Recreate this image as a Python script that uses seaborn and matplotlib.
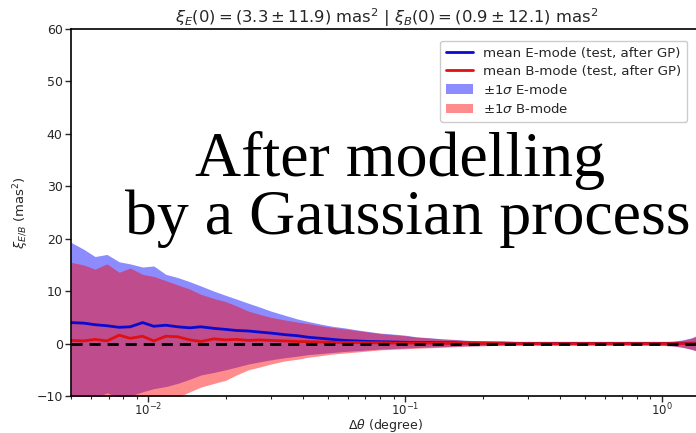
import matplotlib
matplotlib.use("Agg")
import matplotlib.pyplot as plt
import seaborn as sns
import numpy as np
import pandas as pd
from matplotlib.patches import Patch
from matplotlib.lines import Line2D

# ---- data ----
theta = [0.0050, 0.0056, 0.0062, 0.0069, 0.0077, 0.0085, 0.0095, 0.0105, 0.0117, 0.013,
         0.0145, 0.016, 0.018, 0.020, 0.022, 0.0245, 0.027, 0.030, 0.034, 0.038,
         0.042, 0.047, 0.052, 0.058, 0.065, 0.072, 0.080, 0.090, 0.10, 0.11,
         0.125, 0.14, 0.155, 0.17, 0.19, 0.21, 0.24, 0.27, 0.30, 0.34,
         0.38, 0.42, 0.47, 0.52, 0.58, 0.65, 0.72, 0.80, 0.90, 1.0,
         1.1, 1.2, 1.3, 1.4, 1.5]

e_mean = [4.0, 3.9, 3.6, 3.4, 3.1, 3.2, 4.0, 3.3, 3.5, 3.2,
          3.0, 3.2, 2.9, 2.7, 2.5, 2.4, 2.2, 2.0, 1.7, 1.5,
          1.2, 1.0, 0.8, 0.6, 0.5, 0.4, 0.35, 0.3, 0.25, 0.2,
          0.2, 0.15, 0.15, 0.1, 0.1, 0.1, 0.1, 0.05, 0.05, 0.05,
          0.05, 0.05, 0.05, 0.05, 0.05, 0.05, 0.05, 0.05, 0.05, 0.05,
          0.05, 0.05, 0.05, 0.05, 0.05]

e_up = [19.3, 18.0, 16.6, 17.0, 15.6, 15.2, 14.6, 14.8, 13.2, 12.6,
        11.8, 11.0, 10.0, 9.2, 8.5, 7.7, 7.0, 6.2, 5.4, 4.7,
        4.2, 3.7, 3.3, 3.0, 2.6, 2.3, 2.0, 1.8, 1.6, 1.3,
        1.1, 0.9, 0.8, 0.65, 0.55, 0.5, 0.45, 0.4, 0.35, 0.3,
        0.3, 0.3, 0.3, 0.3, 0.3, 0.3, 0.3, 0.3, 0.3, 0.35,
        0.45, 0.7, 1.1, 1.8, 2.3]

e_lo = [-11.0, -11.0, -10.5, -9.4, -10.3, -10.0, -9.2, -8.6, -8.2, -7.6,
        -6.8, -6.0, -5.5, -5.0, -4.5, -3.9, -3.5, -3.1, -2.7, -2.4,
        -2.1, -1.9, -1.7, -1.5, -1.35, -1.2, -1.05, -0.95, -0.85, -0.75,
        -0.65, -0.6, -0.5, -0.45, -0.4, -0.35, -0.3, -0.3, -0.3, -0.3,
        -0.3, -0.3, -0.3, -0.3, -0.3, -0.3, -0.3, -0.3, -0.3, -0.35,
        -0.45, -0.7, -1.1, -1.6, -2.0]

b_mean = [0.6, 0.5, 0.8, 0.5, 1.6, 1.0, 1.4, 0.5, 1.4, 1.3,
          0.7, 0.4, 0.9, 0.7, 0.8, 0.6, 0.7, 0.6, 0.5, 0.4,
          0.35, 0.3, 0.25, 0.2, 0.2, 0.15, 0.15, 0.1, 0.1, 0.1,
          0.1, 0.05, 0.05, 0.05, 0.05, 0.05, 0.0, 0.0, 0.0, 0.0,
          0.0, 0.0, 0.0, 0.0, 0.0, 0.0, 0.0, 0.0, 0.0, 0.0,
          0.0, 0.0, 0.0, 0.0, 0.0]

b_up = [15.5, 15.0, 14.2, 15.2, 13.6, 14.4, 13.2, 12.8, 12.0, 11.2,
        10.4, 9.4, 8.6, 8.0, 7.2, 6.2, 5.6, 5.0, 4.5, 4.1,
        3.8, 3.4, 3.1, 2.8, 2.5, 2.2, 1.9, 1.7, 1.5, 1.25,
        1.05, 0.85, 0.75, 0.6, 0.5, 0.45, 0.4, 0.35, 0.3, 0.3,
        0.3, 0.3, 0.3, 0.3, 0.3, 0.3, 0.3, 0.3, 0.3, 0.3,
        0.4, 0.6, 1.0, 1.6, 2.1]

b_lo = [-12.0, -12.0, -12.0, -12.0, -12.0, -11.5, -11.0, -10.6, -10.8, -10.3,
        -9.2, -8.3, -7.6, -7.0, -6.0, -5.0, -4.5, -3.9, -3.3, -3.0,
        -2.6, -2.3, -2.0, -1.8, -1.6, -1.4, -1.2, -1.1, -1.0, -0.9,
        -0.8, -0.7, -0.6, -0.5, -0.45, -0.4, -0.35, -0.3, -0.3, -0.3,
        -0.3, -0.3, -0.3, -0.3, -0.3, -0.3, -0.3, -0.3, -0.3, -0.35,
        -0.45, -0.7, -1.1, -1.6, -2.0]

title_text = r"$\xi_E(0) = (3.3 \pm 11.9)$ mas$^2$ | $\xi_B(0) = (0.9 \pm 12.1)$ mas$^2$"
overlay_1 = "After modelling"
overlay_2 = "by a Gaussian process"

df = pd.DataFrame({"theta": theta, "e_mean": e_mean, "b_mean": b_mean})

sns.set_theme(style="ticks")
plt.rcParams["font.family"] = ["DejaVu Sans"]
plt.rcParams["axes.edgecolor"] = "black"
plt.rcParams["axes.linewidth"] = 1.2

fig = plt.figure(figsize=(6.96, 4.33), dpi=100)
ax = fig.add_axes([71 / 696, 1 - 396 / 433, (706 - 71) / 696, (396 - 29) / 433])

E_BAND = "#0000ff"
B_BAND = "#ff0000"
E_LINE = "#0a0ad0"
B_LINE = "#e01010"

ax.fill_between(theta, e_lo, e_up, color=E_BAND, alpha=0.45, lw=0)
ax.fill_between(theta, b_lo, b_up, color=B_BAND, alpha=0.45, lw=0)
sns.lineplot(data=df, x="theta", y="e_mean", ax=ax, color=E_LINE, lw=2)
sns.lineplot(data=df, x="theta", y="b_mean", ax=ax, color=B_LINE, lw=2)
ax.axhline(0, color="black", lw=2, ls=(0, (4, 2.5)))

ax.set_xscale("log")
ax.set_xlim(0.005, 1.48)
ax.set_ylim(-10, 60)
ax.set_yticks([-10, 0, 10, 20, 30, 40, 50, 60])
ax.tick_params(labelsize=9, length=4, width=1, pad=2)
ax.tick_params(axis="x", which="major", pad=0, labelsize=8.5)
ax.tick_params(which="minor", length=2.5, width=0.8)
ax.set_xlabel(r"$\Delta\theta$ (degree)", fontsize=9)
ax.xaxis.set_label_coords((385 - 71) / 635, (396 - 417) / 367)
ax.set_ylabel(r"$\xi_{E/B}$ (mas$^2$)", fontsize=9.5, labelpad=4)
for s in ["top", "left", "bottom"]:
    ax.spines[s].set_visible(True)

fig.text(387 / 696, 1 - 18 / 433, title_text, fontsize=11.8, ha="center", va="center")

handles = [
    Line2D([0], [0], color=E_LINE, lw=2),
    Line2D([0], [0], color=B_LINE, lw=2),
    Patch(facecolor=E_BAND, alpha=0.45, edgecolor="none"),
    Patch(facecolor=B_BAND, alpha=0.45, edgecolor="none"),
]
labels = ["mean E-mode (test, after GP)", "mean B-mode (test, after GP)",
          r"$\pm1\sigma$ E-mode", r"$\pm1\sigma$ B-mode"]
leg = fig.legend(handles, labels, loc="upper right", bbox_to_anchor=(694 / 696, 1 - 34 / 433),
                 fontsize=9.6, frameon=True, framealpha=1, edgecolor="#cccccc",
                 borderpad=0.45, labelspacing=0.38, handlelength=2.0, handletextpad=0.8)

fig.text(400 / 696, 1 - 176 / 433, overlay_1, family="Liberation Serif", fontsize=46,
         ha="center", va="baseline", color="black")
fig.text(408 / 696, 1 - 234 / 433, overlay_2, family="Liberation Serif", fontsize=46,
         ha="center", va="baseline", color="black")

fig.savefig("out.png", dpi=100)
